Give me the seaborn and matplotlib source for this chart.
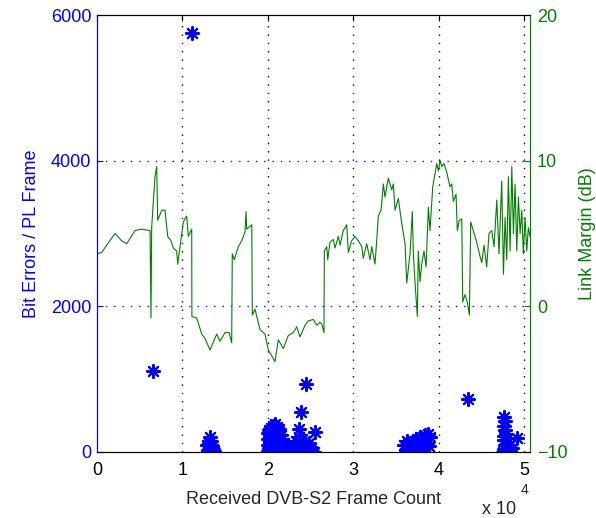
import matplotlib

matplotlib.use("Agg")
import matplotlib.pyplot as plt
import numpy as np
import pandas as pd
import seaborn as sns

# link margin trace (frame index, dB)
frame_idx = [
    0, 550, 1140, 2110, 2890, 3480, 4450, 5230, 6210, 6320, 6400, 6790, 6990, 7110,
    7580, 7960, 8280, 8670, 8930, 9330, 9450, 9720, 10110, 10500, 10690, 11090, 11110,
    11680, 12260, 12650, 13230, 14020, 14400, 14990, 15460, 15770, 15840, 16080, 16550,
    16940, 17330, 17450, 17530, 18120, 18190, 18500, 19090, 19670, 20060, 20460, 20840,
    21230, 21820, 22400, 22990, 23380, 23770, 24360, 24740, 25330, 25730, 26110, 26310,
    26580, 26620, 26900, 27020, 27280, 27670, 27870, 28260, 28460, 28840, 29240, 29430,
    29820, 30210, 30600, 31000, 31180, 31580, 31970, 32170, 32550, 32750, 32940, 33260,
    33530, 33720, 34110, 34510, 34700, 34900, 35280, 35680, 36070, 36270, 36650, 36920,
    37040, 37240, 37510, 37620, 37820, 38020, 38290, 38530, 38800, 38990, 39310, 39580,
    39780, 39970, 40170, 40360, 40630, 40950, 41340, 41540, 41720, 42040, 42190, 42420,
    42710, 42820, 43090, 43360, 43600, 43760, 44060, 44460, 44770, 45050, 45320, 45630,
    45900, 46220, 46490, 46810, 47070, 47390, 47590, 47780, 47980, 48170, 48370, 48570,
    48760, 48950, 49150, 49340, 49540, 49740, 49920, 50120, 50320, 50510, 50700,
]
link_margin = [
    3.6, 3.7, 4.2, 5.0, 4.5, 4.3, 5.2, 5.3, 5.2, -0.8, 5.4, 8.9, 9.6, 5.9,
    6.6, 6.6, 4.8, 4.5, 4.0, 3.8, 2.9, 4.1, 5.8, 6.2, 4.8, 5.3, -0.7,
    -0.8, -1.9, -2.2, -3.0, -1.9, -2.4, -1.8, -1.8, -2.5, 3.6, 3.2, 4.1,
    4.5, 5.1, 6.5, 5.3, 5.6, -0.6, -0.2, -1.6, -1.9, -3.0, -3.4, -3.8,
    -2.3, -2.9, -2.0, -1.8, -1.4, -2.1, -1.3, -1.0, -0.9, -1.3, -1.1, -1.2,
    -1.8, 3.8, 4.1, 3.2, 4.4, 4.6, 4.0, 4.8, 4.2, 5.2, 5.6, 3.7,
    4.5, 4.8, 4.5, 4.1, 3.3, 4.3, 3.2, 4.1, 2.9, 4.5, 6.2, 6.6,
    8.4, 7.5, 8.8, 8.0, 8.4, 6.6, 7.4, 5.7, 4.3, 1.6, 3.6, 6.5,
    3.6, 1.6, -0.7, 3.8, 1.7, 2.9, 3.8, 2.7, 6.8, 5.2, 8.2, 9.1,
    9.8, 9.3, 10.0, 9.6, 9.8, 9.2, 8.2, 8.4, 7.2, 7.7, 5.2, 5.9,
    6.0, 0.3, 0.8, 0.3, -0.6, 5.8, 5.2, 4.4, 3.6, 3.0, 4.2, 2.7,
    5.0, 5.2, 4.1, 7.3, 3.6, 8.6, 2.2, 6.1, 3.2, 8.9, 3.8, 9.6,
    5.0, 8.4, 3.8, 7.5, 5.0, 6.6, 3.6, 6.1, 3.8, 5.4, 4.8,
]

# bit errors per PL frame (frame index, errors)
err_frame = [
    6590, 11090,
    12900, 13000, 13000, 13100, 13200, 13250, 13300, 13350, 13400, 13500, 13600, 13700,
    20000, 20000, 20000, 20050, 20100, 20150, 20200, 20250, 20300, 20350, 20400, 20450,
    20500, 20600, 20650, 20700, 20800, 20850, 20900, 21000, 21050, 21100, 21200, 21300,
    21350, 21400, 21500, 21600, 21700, 21800, 21900, 22000, 22200, 22400, 22600, 22800,
    23100, 23300, 23500, 23600, 23700, 23900, 24000, 24200, 24300, 24500, 24600, 24800,
    25000, 25200, 25400,
    23700, 23890, 24440, 25530,
    36000, 36200, 36300, 36500, 36700, 36800, 37000, 37200, 37300, 37400, 37500, 37700,
    37800, 38000, 38100, 38200, 38400, 38600, 38700, 38900, 39000,
    43400,
    47500, 47650, 47700, 47700, 47700, 47700, 47750, 47800, 47800, 47900, 48000, 48200,
    48300, 48600, 49150,
]
bit_errors = [
    1110, 5750,
    90, 30, 0, 120, 60, 200, 150, 0, 20, 80, 40, 10,
    20, 100, 180, 260, 50, 300, 140, 220, 10, 330, 90, 260,
    170, 360, 40, 250, 380, 120, 300, 200, 350, 60, 280, 150,
    320, 20, 230, 100, 180, 40, 130, 60, 20, 80, 10, 0,
    50, 150, 100, 200, 20, 130, 180, 60, 150, 100, 30, 120,
    60, 20, 0,
    316, 545, 934, 270,
    100, 30, 150, 60, 120, 0, 80, 150, 0, 30, 180, 100,
    200, 50, 0, 160, 230, 120, 250, 80, 200,
    723,
    0, 160, 480, 360, 220, 40, 420, 300, 100, 250, 0, 100,
    20, 50, 190,
]

x_ticks = [0, 10000, 20000, 30000, 40000, 50000]
x_tick_labels = ["0", "1", "2", "3", "4", "5"]
left_ticks = [0, 2000, 4000, 6000]
right_ticks = [-10, 0, 10, 20]

BLUE = "#0000ff"
GREEN = "#008000"

sns.set_style("white")
plt.rcParams["font.family"] = ["Liberation Sans", "DejaVu Sans"]
plt.rcParams["font.size"] = 13

errors_df = pd.DataFrame({"frame": err_frame, "errors": bit_errors})
margin_df = pd.DataFrame({"frame": frame_idx, "margin": link_margin})

fig = plt.figure(figsize=(5.96, 5.18), dpi=100)
ax = fig.add_axes([97 / 596, 66 / 518, 433 / 596, 437 / 518])
ax2 = ax.twinx()

sns.scatterplot(
    data=errors_df,
    x="frame",
    y="errors",
    marker=(8, 2, 0),
    s=90,
    color=BLUE,
    edgecolor=BLUE,
    linewidth=1.5,
    ax=ax,
    zorder=3,
)
sns.lineplot(
    data=margin_df,
    x="frame",
    y="margin",
    estimator=None,
    sort=False,
    color=GREEN,
    linewidth=0.8,
    ax=ax2,
)

ax.set_xlim(0, 50700)
ax.set_ylim(0, 6000)
ax2.set_ylim(-10, 20)

ax.set_xticks(x_ticks)
ax.set_xticklabels(x_tick_labels)
ax.set_yticks(left_ticks)
ax2.set_yticks(right_ticks)

# matlab-like dotted grid
for xv in x_ticks[1:]:
    ax.axvline(xv, color="black", linestyle=(0, (1, 5)), linewidth=1.0, zorder=1)
for yv in left_ticks[1:-1]:
    ax.axhline(yv, color=BLUE, linestyle=(0, (1, 5)), linewidth=1.0, zorder=1)

ax.tick_params(axis="x", direction="in", length=4, pad=7, colors="black", top=True)
ax.tick_params(axis="y", direction="in", length=4, pad=4, colors=BLUE)
ax2.tick_params(axis="y", direction="in", length=4, pad=5, colors=GREEN)

for a in (ax, ax2):
    for side in ("top", "bottom"):
        a.spines[side].set_color("black")
        a.spines[side].set_linewidth(0.8)
    a.spines["left"].set_color(BLUE)
    a.spines["right"].set_color(GREEN)

ax.set_xlabel("Received DVB-S2 Frame Count", labelpad=9)
ax.set_ylabel("Bit Errors / PL Frame", color=BLUE, labelpad=8)
ax2.set_ylabel("Link Margin (dB)", color=GREEN, labelpad=8)

fig.text(482 / 596, 1 - 510 / 518, "x 10", fontsize=13, va="center", ha="left")
fig.text(521 / 596, 1 - 490 / 518, "4", fontsize=10, va="center", ha="left")

fig.savefig("out.png", dpi=100)
plt.close(fig)
